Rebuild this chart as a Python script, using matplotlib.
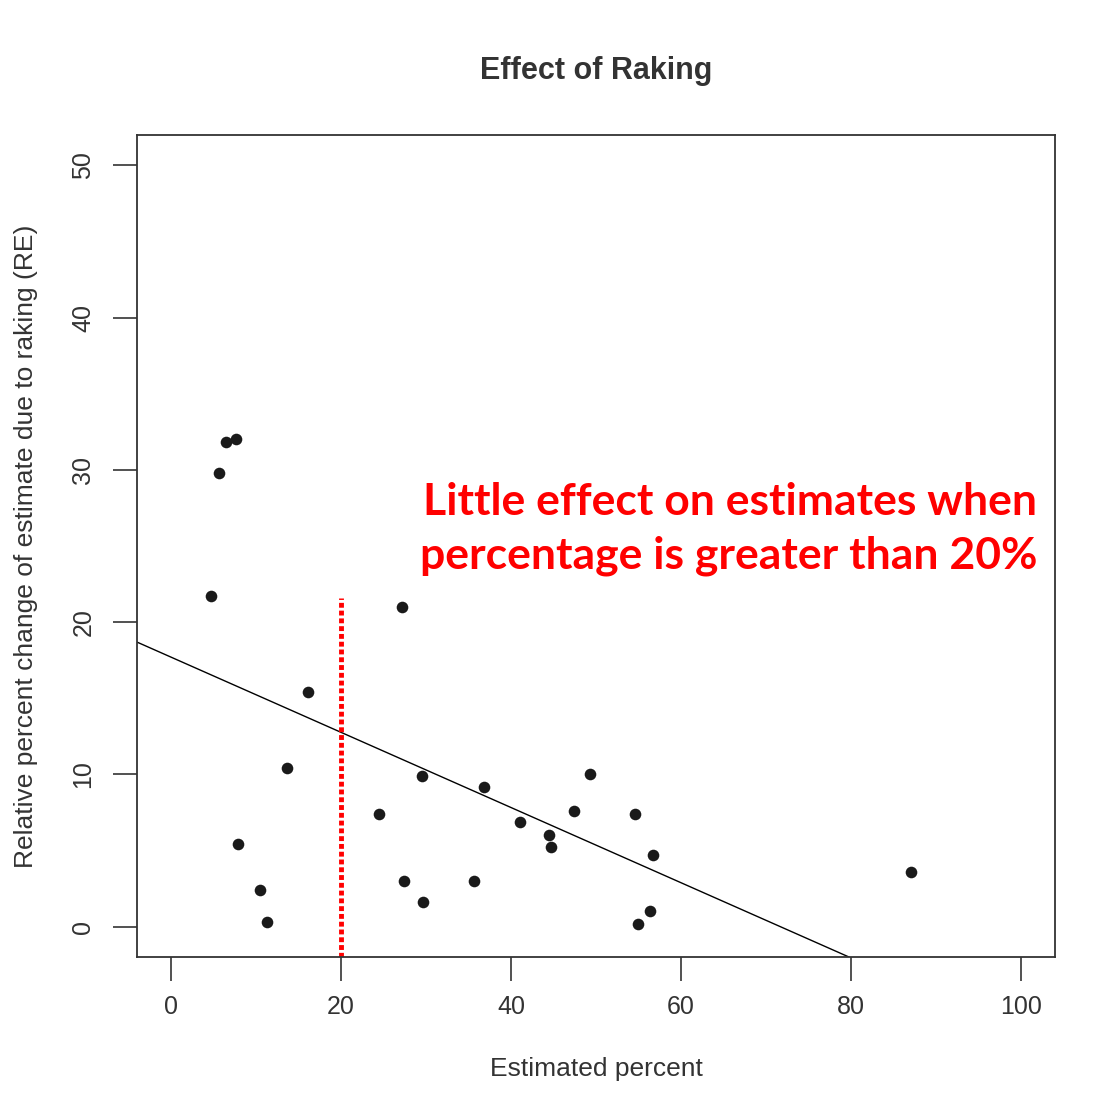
import matplotlib.pyplot as plt
import numpy as np

# Estimated percent vs relative percent change due to raking
est_pct = [4.7, 5.6, 6.5, 7.6, 7.9, 10.5, 11.3, 13.6, 16.1, 24.5, 27.2, 27.4, 29.5,
           29.6, 35.6, 36.8, 41.1, 44.5, 44.7, 47.4, 49.3, 54.6, 54.9, 56.4, 56.7, 87.1]
rel_change = [21.7, 29.8, 31.8, 32.0, 5.4, 2.4, 0.3, 10.4, 15.4, 7.4, 21.0, 3.0, 9.9,
              1.6, 3.0, 9.2, 6.9, 6.0, 5.2, 7.6, 10.0, 7.4, 0.2, 1.0, 4.7, 3.6]

# fitted line
intercept = 17.7
slope = -0.247

cutoff_x = 20
cutoff_top = 21.6

plt.rcParams['font.family'] = ['Liberation Sans', 'DejaVu Sans']

fig = plt.figure(figsize=(11.05, 11.12), dpi=100)
ax = fig.add_axes([137 / 1105, 1 - 957 / 1112, (1055 - 137) / 1105, (957 - 135) / 1112])

ax.scatter(est_pct, rel_change, s=70, color='#1a1a1a', zorder=3, linewidths=0)
ax.axline((0, intercept), slope=slope, color='black', linewidth=1)
ax.plot([cutoff_x, cutoff_x], [-2.5, cutoff_top], color='red', linestyle=(0, (1, 0.6)),
        linewidth=3.5, zorder=2)

ax.set_xlim(-4, 104)
ax.set_ylim(-2.0, 52.0)
ax.set_xticks([0, 20, 40, 60, 80, 100])
ax.set_yticks([0, 10, 20, 30, 40, 50])
ax.tick_params(axis='both', length=17, width=1.2, color='#333333', labelsize=18,
               labelcolor='#333333', pad=10)
ax.tick_params(axis='y', pad=13)
for lab in ax.get_yticklabels():
    lab.set_rotation(90)
    lab.set_va('center')
for sp in ax.spines.values():
    sp.set_linewidth(1.3)
    sp.set_color('#333333')

ax.set_title('Effect of Raking', fontsize=22, fontweight='bold', color='#333333', pad=40)
ax.set_xlabel('Estimated percent', fontsize=19, color='#333333', labelpad=28)
ax.set_ylabel('Relative percent change of estimate due to raking (RE)', fontsize=19,
              color='#333333', labelpad=24)

fig.text(1037 / 1105, 1 - 482 / 1112, 'Little effect on estimates when\npercentage is greater than 20%',
         ha='right', va='top', color='red', fontsize=32,
         fontweight='bold', family=['Lato', 'DejaVu Sans'], linespacing=1.42)

fig.savefig('out.png', dpi=100)
